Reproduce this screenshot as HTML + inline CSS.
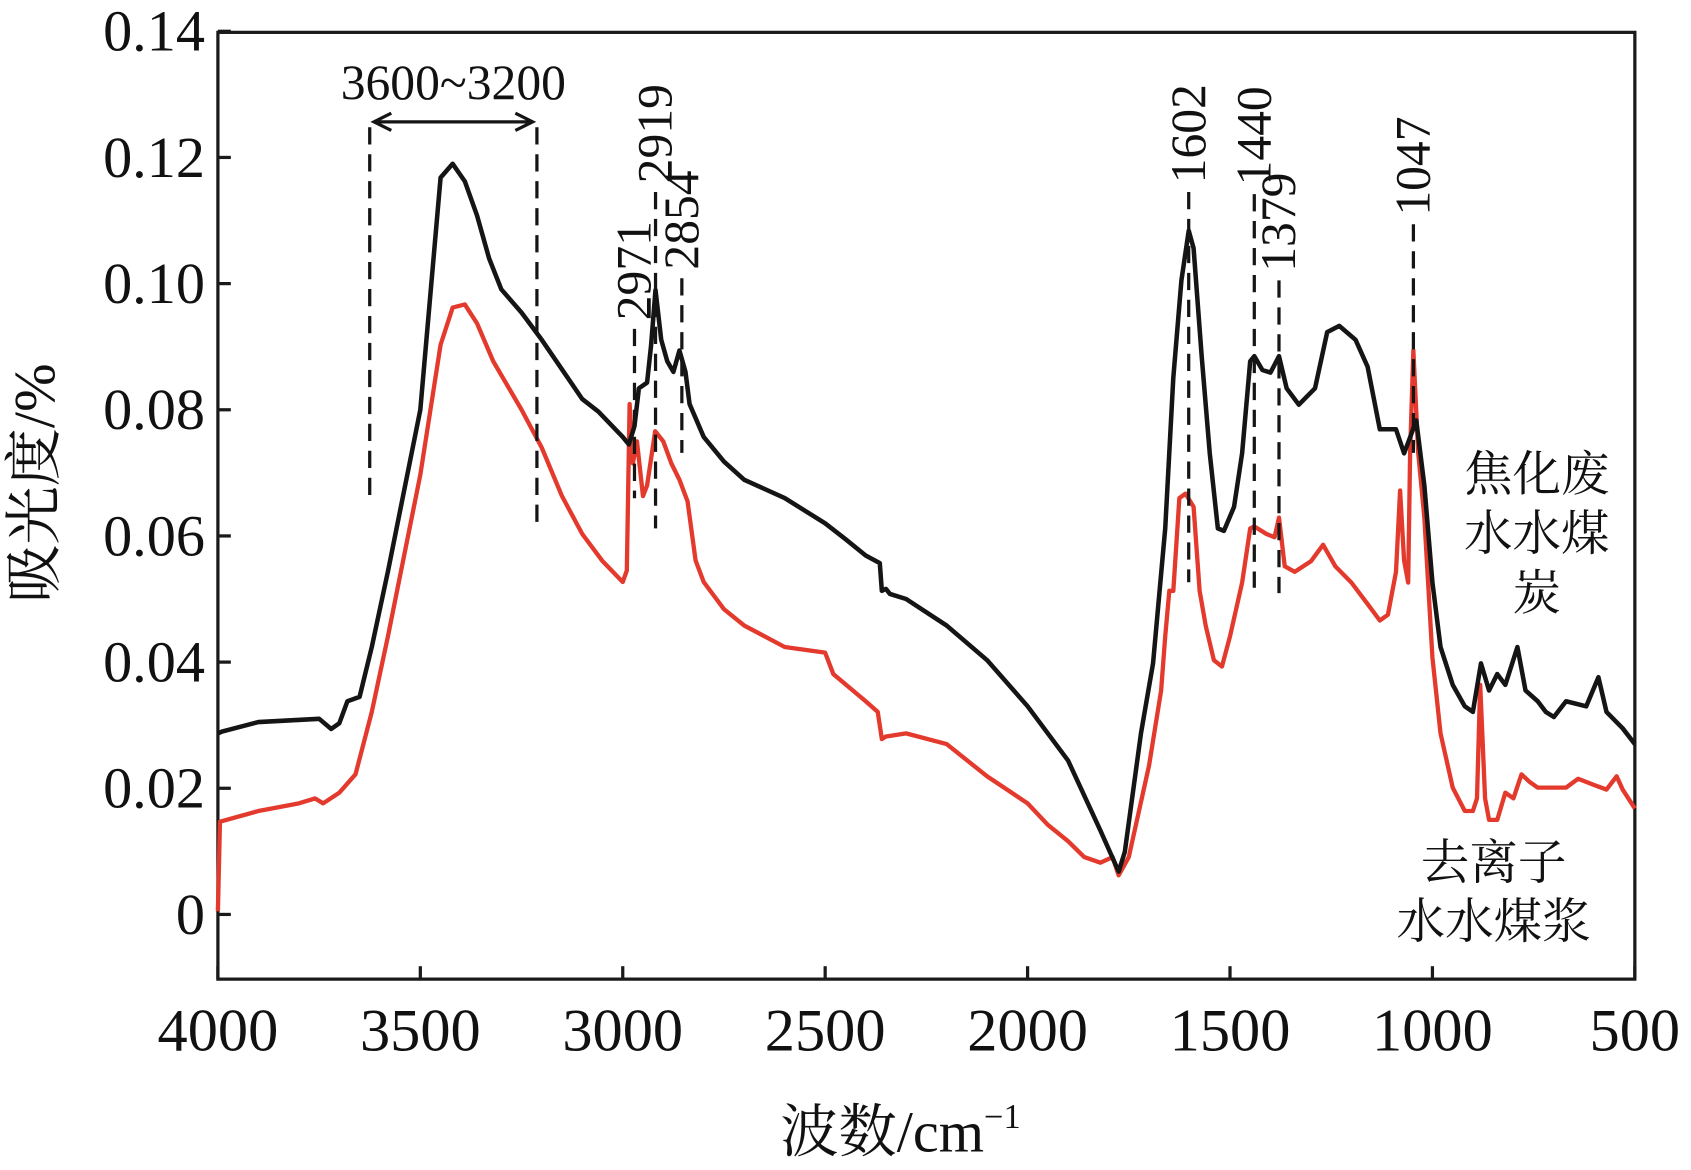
<!DOCTYPE html>
<html><head><meta charset="utf-8"><style>html,body{margin:0;padding:0;background:#fff}svg{display:block}</style></head>
<body>
<svg id="chart" width="1691" height="1170" viewBox="0 0 1568 1085" xmlns="http://www.w3.org/2000/svg" font-family="'Liberation Serif','Noto Serif CJK SC',serif">
<g id="axes"></g>
<g id="series"></g>
<g id="annot"></g>
<text transform="translate(50,448) rotate(-90)" text-anchor="middle" font-size="54" fill="#111">吸光度/%</text>
<text x="835" y="1068" text-anchor="middle" font-size="54" fill="#111">波数/cm<tspan font-size="32" dy="-22">−1</tspan></text>
<g font-size="45" fill="#111" text-anchor="middle">
<text x="1425" y="455">焦化废</text><text x="1425" y="510">水水煤</text><text x="1425" y="565">炭</text></g>
<g font-size="45" fill="#111" text-anchor="middle">
<text x="1385" y="815">去离子</text><text x="1385" y="870">水水煤浆</text></g>
<script>
const xTicks=[4000,3500,3000,2500,2000,1500,1000,500];
const yTicks=[0,0.02,0.04,0.06,0.08,0.10,0.12,0.14];
const yTickLabels=["0","0.02","0.04","0.06","0.08","0.10","0.12","0.14"];
const blackWn=[4000,3990,3900,3750,3720,3700,3680,3650,3620,3580,3500,3450,3420,3390,3360,3330,3300,3250,3200,3100,3060,3000,2985,2971,2960,2940,2930,2919,2905,2890,2875,2860,2845,2835,2800,2750,2700,2600,2500,2450,2400,2365,2360,2350,2340,2300,2200,2100,2000,1900,1820,1775,1760,1720,1690,1660,1640,1620,1602,1590,1570,1550,1530,1515,1490,1470,1450,1440,1420,1400,1379,1360,1330,1290,1260,1230,1190,1160,1130,1090,1070,1060,1040,1020,1000,980,950,920,900,880,860,840,820,790,770,740,720,700,670,620,590,570,530,500];
const blackAbs=[0.0287,0.029,0.0305,0.031,0.0294,0.0303,0.0338,0.0345,0.0424,0.0544,0.080,0.1168,0.119,0.1162,0.1108,0.104,0.0991,0.0954,0.0911,0.0817,0.0797,0.0757,0.0745,0.0774,0.0834,0.0843,0.0902,0.099,0.0911,0.0877,0.086,0.0894,0.086,0.0809,0.0757,0.0718,0.0689,0.066,0.062,0.0595,0.0569,0.0557,0.0513,0.0516,0.0508,0.050,0.0458,0.0403,0.033,0.0244,0.0133,0.0068,0.0099,0.0287,0.0398,0.0612,0.0851,0.1005,0.1084,0.1056,0.0885,0.0731,0.0612,0.0608,0.0646,0.0731,0.0877,0.0885,0.0863,0.0859,0.0885,0.0834,0.0808,0.0834,0.0923,0.0933,0.0911,0.0868,0.0769,0.0769,0.0731,0.0748,0.0783,0.0680,0.0526,0.0424,0.0364,0.033,0.0321,0.0398,0.0355,0.0381,0.0364,0.0424,0.0355,0.0338,0.0321,0.0313,0.0338,0.0330,0.0376,0.0321,0.0295,0.027];
const redWn=[4000,3995,3900,3800,3760,3740,3700,3660,3620,3580,3500,3450,3420,3390,3360,3320,3250,3200,3150,3100,3050,3000,2990,2983,2975,2965,2950,2940,2920,2900,2880,2860,2840,2820,2800,2750,2700,2600,2500,2480,2400,2370,2360,2350,2300,2200,2100,2000,1950,1900,1860,1820,1790,1775,1750,1700,1670,1660,1650,1640,1625,1610,1590,1575,1560,1540,1520,1500,1470,1450,1440,1410,1390,1379,1365,1340,1300,1270,1240,1200,1160,1130,1110,1090,1080,1070,1060,1055,1047,1035,1020,1000,980,950,920,900,890,882,870,860,840,820,800,780,760,740,700,670,640,600,570,545,530,500];
const redAbs=[0.0005,0.0147,0.0164,0.0176,0.0184,0.0176,0.0193,0.0222,0.0321,0.0441,0.0697,0.0903,0.0962,0.0967,0.0937,0.0877,0.0800,0.074,0.0663,0.0603,0.056,0.0527,0.0545,0.0809,0.0715,0.0750,0.0663,0.068,0.0766,0.0750,0.0715,0.0689,0.0655,0.0561,0.0527,0.0484,0.0458,0.0424,0.0415,0.0381,0.0338,0.0321,0.0278,0.0282,0.0287,0.0270,0.0219,0.0176,0.0142,0.0116,0.0091,0.0082,0.0091,0.0062,0.0091,0.0236,0.0355,0.0441,0.0513,0.0513,0.0660,0.0667,0.0646,0.0513,0.0458,0.0403,0.0393,0.0441,0.0526,0.0612,0.0615,0.0603,0.0598,0.0629,0.0552,0.0543,0.0560,0.0586,0.0552,0.0526,0.0492,0.0466,0.0475,0.0543,0.0672,0.0561,0.0526,0.0732,0.0894,0.0732,0.0629,0.0407,0.0287,0.0201,0.0164,0.0164,0.0184,0.0364,0.0184,0.0150,0.0150,0.0193,0.0184,0.0222,0.0210,0.0201,0.0201,0.0201,0.0215,0.0205,0.0198,0.0219,0.0198,0.0168];
const peakWn=[2971,2919,2854,1602,1440,1379,1047];
const peakLabels=["2971","2919","2854","1602","1440","1379","1047"];
const rangeWn=[3625,3212];
const NS="http://www.w3.org/2000/svg";
const L=202,R=1516,T=30,B=908;
function sx(w){return L+(4000-w)/3500*(R-L);}
function sy(a){return 848-a/0.02*117;}
function mk(tag,attrs,parent){const e=document.createElementNS(NS,tag);for(const k in attrs)e.setAttribute(k,attrs[k]);parent.appendChild(e);return e;}
const axes=document.getElementById('axes'),series=document.getElementById('series'),annot=document.getElementById('annot');
const frame=mk('rect',{x:L,y:T,width:R-L,height:B-T,fill:'none',stroke:'#1a1a1a','stroke-width':3},axes);


xTicks.forEach(w=>{
 const t=mk('line',{x1:sx(w),x2:sx(w),y1:B,y2:B-12,stroke:'#1a1a1a','stroke-width':3},axes);
 
 
 const lb=mk('text',{x:sx(w),y:974,'text-anchor':'middle','font-size':56,fill:'#111'},axes);
 lb.textContent=w;
 
 
});
yTicks.forEach((v,i)=>{
 const t=mk('line',{x1:L,x2:L+12,y1:sy(v),y2:sy(v),stroke:'#1a1a1a','stroke-width':3},axes);
 
 
 const lb=mk('text',{x:190,y:sy(v)+18,'text-anchor':'end','font-size':54,fill:'#111'},axes);
 lb.textContent=yTickLabels[i];
 
 
});
function line(wn,ab,color,w,name){
 const d=wn.map((x,i)=>(i?'L':'M')+sx(x).toFixed(1)+','+sy(ab[i]).toFixed(1)).join(' ');
 const p=mk('path',{d:d,fill:'none',stroke:color,'stroke-width':w,'stroke-linejoin':'round'},series);
 
 
}
line(redWn,redAbs,'#e33a2d',4,'deionized-water-series');
line(blackWn,blackAbs,'#151515',4.2,'coking-wastewater-series');
const peakTop=[305,178,258,178,180,260,208],peakBot=[462,490,420,540,545,550,420];
peakWn.forEach((w,i)=>{
 const x=sx(w);
 const l=mk('line',{x1:x,x2:x,y1:peakTop[i],y2:peakBot[i],stroke:'#151515','stroke-width':3,'stroke-dasharray':'16,9'},annot);
 
 
 const tx=mk('text',{transform:`translate(${x+15},${peakTop[i]-8}) rotate(-90)`,'font-size':46,fill:'#111'},annot);
 tx.textContent=peakLabels[i];
 
 
});
const bots=[460,490];
rangeWn.forEach((w,i)=>{
 const l=mk('line',{x1:sx(w),x2:sx(w),y1:118,y2:bots[i],stroke:'#151515','stroke-width':3,'stroke-dasharray':'16,9'},annot);
 
 
});
const a=sx(rangeWn[0])+4,b=sx(rangeWn[1])-4;
const ar=mk('path',{d:`M${a},113 L${b},113 M${a+16},105 L${a},113 L${a+16},121 M${b-16},105 L${b},113 L${b-16},121`,fill:'none',stroke:'#151515','stroke-width':3},annot);


const rt=mk('text',{x:(a+b)/2,y:92,'text-anchor':'middle','font-size':46,fill:'#111'},annot);
rt.textContent='3600~3200';


</script>
</svg>
</body></html>
